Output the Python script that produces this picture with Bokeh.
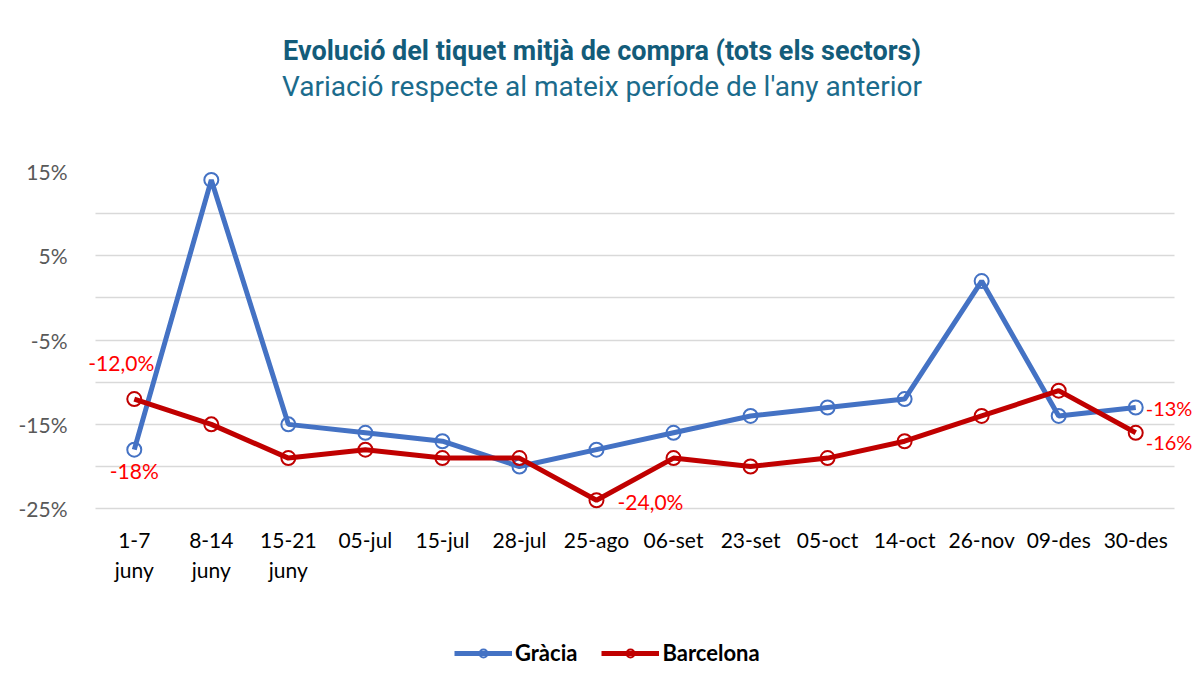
from bokeh.plotting import figure
from bokeh.layouts import column
from bokeh.models import (FactorRange, Range1d, FixedTicker, Legend, LegendItem, ColumnDataSource,
                          LabelSet, Div)
from bokeh.core.properties import value
from bokeh.embed import file_html
from bokeh.resources import INLINE

# ---- data ----
periods = ["1-7\njuny", "8-14\njuny", "15-21\njuny", "05-jul", "15-jul", "28-jul", "25-ago",
           "06-set", "23-set", "05-oct", "14-oct", "26-nov", "09-des", "30-des"]
gracia = [-18, 14, -15, -16, -17, -20, -18, -16, -14, -13, -12, 2, -14, -13]
barcelona = [-12, -15, -19, -18, -19, -19, -24, -19, -20, -19, -17, -14, -11, -16]
y_ticks = [-25, -20, -15, -10, -5, 0, 5, 10, 15]
y_tick_labels = ["-25%", "", "-15%", "", "-5%", "", "5%", "", "15%"]
label_series = ["barcelona", "gracia", "barcelona", "gracia", "barcelona"]
label_index = [0, 0, 6, 13, 13]
label_text = ["-12,0%", "-18%", "-24,0%", "-13%", "-16%"]

title_text = "Evolució del tiquet mitjà de compra (tots els sectors)"
subtitle_text = "Variació respecte al mateix període de l'any anterior"

# ---- styles ----
BLUE = "#4472C4"
RED = "#C00000"
LABEL_RED = "#FF0000"
FONT = "Lato"
label_xoff = [-13, 0, 21, 10, 10]
label_yoff = [37, -21, -1, 0, -9]
label_align = ["center", "center", "left", "left", "left"]
label_size = ["21px", "21px", "21px", "20px", "20px"]
Y_MIN_VIEW = -44.2   # extra room under the -25% line for the category labels and legend

header = Div(text=(
    "<div style='width:1184px;text-align:center;padding-top:28px;position:relative;left:5px;'>"
    "<div style=\"font-family:Roboto;font-weight:bold;font-size:27px;line-height:36px;color:#135C7A;\">"
    + title_text + "</div>"
    "<div style=\"font-family:Roboto;font-size:28px;line-height:36px;color:#1B6B8C;\">"
    + subtitle_text + "</div></div>"), width=1184, height=100)

p = figure(width=1193, height=570,
           x_range=FactorRange(*periods, range_padding=0.25, range_padding_units="absolute"),
           y_range=Range1d(Y_MIN_VIEW, 15), output_backend="svg", toolbar_location=None,
           min_border_left=76, min_border_right=0, min_border_bottom=10, min_border_top=61)
p.outline_line_color = None
p.title.text = ""

# axes
p.yaxis.ticker = FixedTicker(ticks=y_ticks)
p.yaxis.major_label_overrides = {t: l for t, l in zip(y_ticks, y_tick_labels)}
p.yaxis.axis_line_color = None
p.yaxis.major_tick_line_color = None
p.yaxis.minor_tick_line_color = None
p.yaxis.major_label_text_font = FONT
p.yaxis.major_label_text_font_size = "21px"
p.yaxis.major_label_text_color = "#595959"
p.yaxis.major_label_standoff = 3

p.xaxis.fixed_location = min(y_ticks)
p.xaxis.axis_line_color = None
p.xaxis.major_tick_line_color = None
p.xaxis.major_label_text_font = FONT
p.xaxis.major_label_text_font_size = "21px"
p.xaxis.major_label_text_color = "#000000"
p.xaxis.major_label_standoff = 12

p.xgrid.grid_line_color = None
p.ygrid.grid_line_color = "#D9D9D9"
p.ygrid.grid_line_width = 1.5
p.ygrid.cross_bounds = (0, len(periods))

# series
g_line = p.line(periods, gracia, line_color=BLUE, line_width=5)
g_pts = p.scatter(periods, gracia, marker="circle", size=14, line_color=BLUE, line_width=2,
                  fill_color="white", fill_alpha=0.0)
b_line = p.line(periods, barcelona, line_color=RED, line_width=5)
b_pts = p.scatter(periods, barcelona, marker="circle", size=14, line_color=RED, line_width=2,
                  fill_color="white", fill_alpha=0.0)

# data labels
series = {"gracia": gracia, "barcelona": barcelona}
src = ColumnDataSource(dict(
    x=[periods[i] for i in label_index],
    y=[series[s][i] for s, i in zip(label_series, label_index)],
    text=label_text, xo=label_xoff, yo=label_yoff, align=label_align, fs=label_size))
labels = LabelSet(x="x", y="y", text="text", x_offset="xo", y_offset="yo", text_align="align",
                  text_baseline="middle", text_font=value(FONT), text_font_size="fs",
                  text_color=LABEL_RED, source=src)
p.add_layout(labels)

legend = Legend(items=[LegendItem(label="Gràcia", renderers=[g_line, g_pts]),
                       LegendItem(label="Barcelona", renderers=[b_line, b_pts])],
                orientation="horizontal", location=(378, 4), glyph_width=58, glyph_height=20,
                label_text_font=FONT, label_text_font_style="bold", label_text_font_size="22px",
                label_text_color="#000000", spacing=24, padding=6, border_line_color=None,
                background_fill_alpha=0.0, label_standoff=3)
p.add_layout(legend, "center")

open("out.html", "w").write(file_html(column(header, p), INLINE))
